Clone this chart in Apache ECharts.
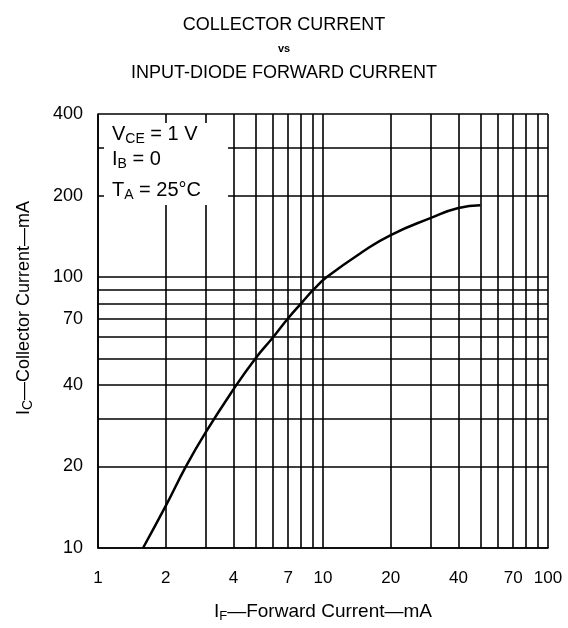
<!DOCTYPE html>
<html style="height: 100%">
<head>
	<meta charset="utf-8">
</head>
<body style="height: 100%; margin: 0; background: #fff">
<div id="container" style="width: 568px; height: 628px"></div>
<script type="text/javascript" src="https://cdn.jsdelivr.net/npm/echarts@6/dist/echarts.min.js"></script>
<script type="text/javascript">
    // grid lines (log-log paper) and labelled ticks
    var xGrid = [1, 2, 3, 4, 5, 6, 7, 8, 9, 10, 20, 30, 40, 50, 60, 70, 80, 90, 100];
    var yGrid = [10, 20, 30, 40, 50, 60, 70, 80, 90, 100, 200, 300, 400];
    var xLabels = [1, 2, 4, 7, 10, 20, 40, 70, 100];
    var yLabels = [10, 20, 40, 70, 100, 200, 400];

    // curve: IF (mA) -> IC (mA)
    var forwardCurrent = [1.585, 2, 2.46, 3, 4, 5, 6, 7, 8, 9.2, 10.4, 15, 20, 30, 40, 50];
    var collectorCurrent = [10, 14.3, 20, 26.6, 38.5, 50, 60, 70.5, 80, 91, 100, 124, 143, 165, 180, 184];

    var FONT = '"Liberation Sans", Arial, sans-serif';

    var curve = [];
    for (var i = 0; i < forwardCurrent.length; i++) {
        curve.push([forwardCurrent[i], collectorCurrent[i]]);
    }

    var dom = document.getElementById("container");
    var myChart = echarts.init(dom);

    var gridLine = { show: true, lineStyle: { color: '#000', width: 1.6 } };

    // one line of the condition box, main text with subscripts
    var condRich = {
        m: { fontFamily: FONT, fontSize: 20, fill: '#000', lineHeight: 24 },
        s: { fontFamily: FONT, fontSize: 14, fill: '#000', lineHeight: 14, verticalAlign: 'bottom' }
    };
    function condLine(text, top) {
        return { type: 'text', left: 112, top: top, z: 51, style: { text: text, rich: condRich } };
    }

    var option = {
        backgroundColor: '#fff',
        animation: false,
        title: {
            left: 'center',
            top: 8,
            text: '{a|COLLECTOR CURRENT}\n{b|vs}\n{a|INPUT-DIODE FORWARD CURRENT}',
            textStyle: {
                rich: {
                    a: { fontFamily: FONT, fontSize: 18, color: '#000', lineHeight: 24, fontWeight: 'normal' },
                    b: { fontFamily: FONT, fontSize: 11, color: '#000', lineHeight: 24, fontWeight: 'bold' }
                }
            }
        },
        grid: { left: 98, right: 20, top: 114, bottom: 78 },
        xAxis: {
            type: 'log',
            logBase: 10,
            min: 1,
            max: 100,
            name: '{m|I}{s|F}{m|—Forward Current—mA}',
            nameLocation: 'middle',
            nameGap: 53,
            nameTextStyle: {
                rich: {
                    m: { fontFamily: FONT, fontSize: 19, color: '#000', lineHeight: 22 },
                    s: { fontFamily: FONT, fontSize: 13, color: '#000', lineHeight: 13, verticalAlign: 'bottom' }
                }
            },
            axisLine: { show: true, lineStyle: { color: '#000', width: 1.6 } },
            axisTick: { show: false, customValues: xGrid },
            axisLabel: {
                customValues: xLabels,
                margin: 22,
                fontFamily: FONT, fontSize: 17, color: '#000',
                formatter: function (v) { return String(Math.round(v)); }
            },
            splitLine: gridLine
        },
        yAxis: {
            type: 'log',
            logBase: 10,
            min: 10,
            max: 400,
            name: '{m|I}{s|C}{m|—Collector Current—mA}',
            nameLocation: 'middle',
            nameGap: 63,
            nameTextStyle: {
                padding: [0, 0, 0, 46],
                rich: {
                    m: { fontFamily: FONT, fontSize: 18, color: '#000', lineHeight: 22 },
                    s: { fontFamily: FONT, fontSize: 14, color: '#000', lineHeight: 14, verticalAlign: 'bottom' }
                }
            },
            axisLine: { show: true, lineStyle: { color: '#000', width: 1.6 } },
            axisTick: { show: false, customValues: yGrid },
            axisLabel: {
                customValues: yLabels,
                margin: 15,
                fontFamily: FONT, fontSize: 18, color: '#000',
                formatter: function (v) { return String(Math.round(v)); }
            },
            splitLine: gridLine
        },
        graphic: [
            {
                type: 'rect',
                shape: { x: 104, y: 123, width: 124, height: 82 },
                style: { fill: '#fff' },
                z: 50
            },
            condLine('{m|V}{s|CE}{m| = 1 V}', 124),
            condLine('{m|I}{s|B}{m| = 0}', 149),
            condLine('{m|T}{s|A}{m| = 25°C}', 180)
        ],
        series: [
            {
                type: 'line',
                data: curve,
                smooth: 0.5,
                showSymbol: false,
                lineStyle: { color: '#000', width: 2.5 },
                z: 10
            }
        ]
    };

    myChart.setOption(option);
</script>
</body>
</html>
